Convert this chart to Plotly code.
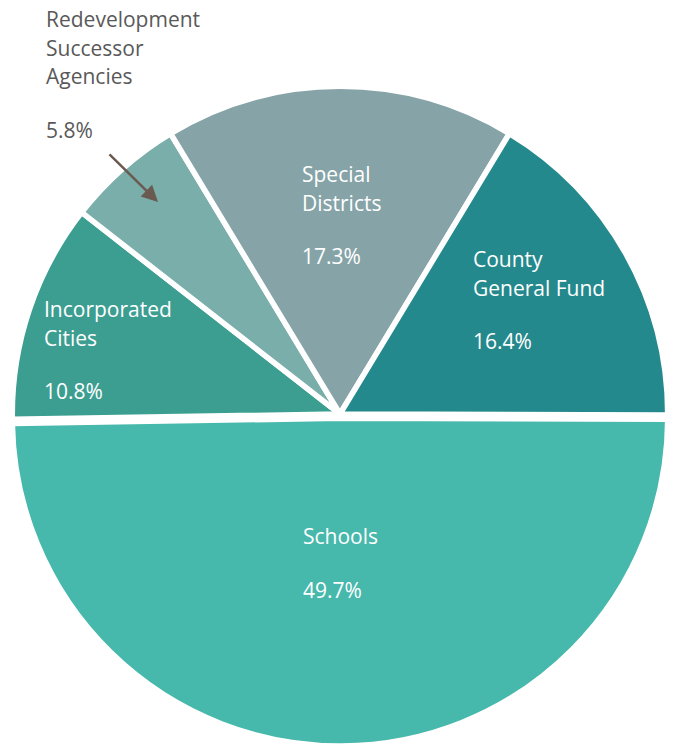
import plotly.graph_objects as go

# ---- data ----
categories = ["Incorporated Cities", "Redevelopment Successor Agencies",
              "Special Districts", "County General Fund", "Schools"]
values = [10.8, 5.8, 17.3, 16.4, 49.7]
label_lines = [["Incorporated", "Cities"],
               ["Redevelopment", "Successor", "Agencies"],
               ["Special", "Districts"],
               ["County", "General Fund"],
               ["Schools"]]
pct_text = ["10.8%", "5.8%", "17.3%", "16.4%", "49.7%"]
colors = ["#3C9E91", "#79AEAA", "#86A4A8", "#24898D", "#46B8AC"]
pulls = [0, 0, 0, 0, 0.013]

# ---- layout helpers ----
W, H = 676, 746
# label anchor (left x, center y of first line) in pixels, and text colour
label_pos = [(42, 309), (44, 19), (300, 174), (471, 259), (301, 536)]
label_col = ["white", "#595959", "white", "white", "white"]
LINE = 28.7
PCT_GAP = 53.5
FONT = "Open Sans"
FS = 21

# start so that Special Districts is centred at 12 o'clock
start = -(values[0] + values[1] + values[2] / 2) / sum(values) * 360

fig = go.Figure(go.Pie(
    labels=categories, values=values, sort=False, direction="clockwise",
    rotation=start, pull=pulls, textinfo="none", hoverinfo="skip",
    marker=dict(colors=colors, line=dict(color="white", width=5.5)),
    domain=dict(x=[0.0089, 0.9970], y=[0.0, 0.890]),
    showlegend=False,
))

def px(x):
    return x / W

def py(y):
    return 1 - y / H

annotations = []
for lines, pct, (x0, y0), col in zip(label_lines, pct_text, label_pos, label_col):
    for i, ln in enumerate(lines):
        annotations.append(dict(x=px(x0), y=py(y0 + i * LINE), xref="paper", yref="paper",
                                text=ln, showarrow=False, xanchor="left", yanchor="middle",
                                font=dict(family=FONT, size=FS, color=col)))
    yp = y0 + (len(lines) - 1) * LINE + PCT_GAP
    annotations.append(dict(x=px(x0), y=py(yp), xref="paper", yref="paper",
                            text=pct, showarrow=False, xanchor="left", yanchor="middle",
                            font=dict(family=FONT, size=FS, color=col)))

# arrow pointing into the Redevelopment slice
annotations.append(dict(x=px(158), y=py(202), xref="paper", yref="paper",
                        ax=-50, ay=-49, axref="pixel", ayref="pixel",
                        text="", showarrow=True, arrowhead=2, arrowsize=1.3,
                        arrowwidth=2.5, arrowcolor="#6B5A50"))

fig.update_layout(width=W, height=H, margin=dict(l=0, r=0, t=0, b=0),
                  paper_bgcolor="white", plot_bgcolor="white",
                  annotations=annotations)

fig.write_html("out.html")
